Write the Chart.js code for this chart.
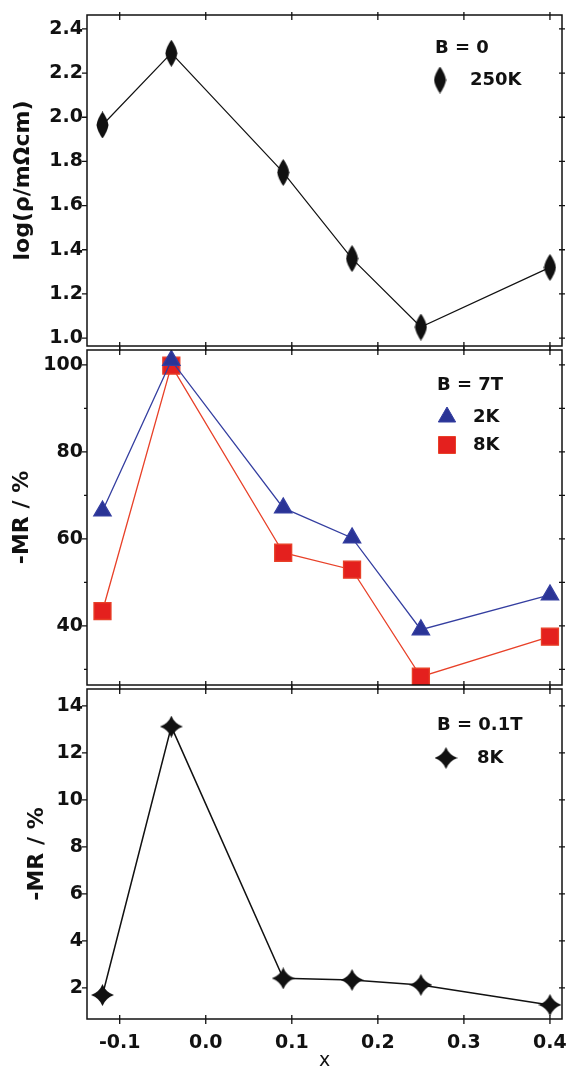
<!DOCTYPE html>
<html>
<head>
<meta charset="utf-8">
<script src="https://cdn.jsdelivr.net/npm/chart.js@4"></script>
<style>
  body { margin: 0; background: #fff; }
  #wrap { position: relative; width: 566px; height: 1072px; }
  canvas { position: absolute; left: 0; }
</style>
</head>
<body>
<div id="wrap">
  <canvas id="rhoChart" width="566" height="352" style="top:0px"></canvas>
  <canvas id="mr7Chart" width="566" height="346" style="top:346px"></canvas>
  <canvas id="mr01Chart" width="566" height="387" style="top:685px"></canvas>
</div>
<script>
// shared composition axis
const xValues = [-0.12, -0.04, 0.09, 0.17, 0.25, 0.4];
const xTicks = [-0.1, 0.0, 0.1, 0.2, 0.3, 0.4];

// top panel: B = 0, 250K
const logRho250K = [1.965, 2.29, 1.75, 1.36, 1.05, 1.32];
const rhoTicks = [1.0, 1.2, 1.4, 1.6, 1.8, 2.0, 2.2, 2.4];

// middle panel: B = 7T
const mr7T2K = [66.4, 101, 67.1, 60.2, 39.1, 47.1];
const mr7T8K = [43.4, 99.8, 56.8, 52.9, 28.3, 37.5];
const mr7Ticks = [40, 60, 80, 100];
const mr7MinorTicks = [30, 50, 70, 90];

// bottom panel: B = 0.1T, 8K
const mr01T8K = [1.7, 13.12, 2.41, 2.34, 2.13, 1.28];
const mr01Ticks = [2, 4, 6, 8, 10, 12, 14];

const FONT = '"DejaVu Sans", "Liberation Sans", sans-serif';
const INK = "#111";

// tall diamond marker
function makeDiamond() {
  const c = document.createElement("canvas");
  c.width = 13; c.height = 27;
  const g = c.getContext("2d");
  g.fillStyle = INK;
  g.beginPath();
  g.moveTo(6.5, 0);
  g.quadraticCurveTo(11.5, 7, 12.5, 13.5);
  g.quadraticCurveTo(11.5, 20, 6.5, 27);
  g.quadraticCurveTo(1.5, 20, 0.5, 13.5);
  g.quadraticCurveTo(1.5, 7, 6.5, 0);
  g.fill();
  return c;
}

// four point star marker
function makeStar() {
  const c = document.createElement("canvas");
  c.width = 23; c.height = 22;
  const g = c.getContext("2d");
  const cx = 11.5, cy = 11;
  g.fillStyle = INK;
  g.beginPath();
  g.moveTo(cx, 0);
  g.quadraticCurveTo(cx + 3, cy - 3, 23, cy);
  g.quadraticCurveTo(cx + 3, cy + 3, cx, 22);
  g.quadraticCurveTo(cx - 3, cy + 3, 0, cy);
  g.quadraticCurveTo(cx - 3, cy - 3, cx, 0);
  g.fill();
  return c;
}

const diamond = makeDiamond();
const star = makeStar();

function points(ys) {
  return xValues.map((x, i) => ({ x: x, y: ys[i] }));
}

function framePlugin(cfg) {
  return {
    id: "frame",
    afterDraw(chart) {
      const { ctx, chartArea: a, scales } = chart;
      ctx.save();
      ctx.strokeStyle = INK;
      ctx.lineWidth = 1.5;
      ctx.strokeRect(a.left, a.top, a.right - a.left, a.bottom - a.top);
      ctx.lineWidth = 1.3;
      ctx.beginPath();
      xTicks.forEach((v) => {
        const px = scales.x.getPixelForValue(v);
        ctx.moveTo(px, a.top - 3); ctx.lineTo(px, a.top + 5);
        ctx.moveTo(px, a.bottom - 4); ctx.lineTo(px, a.bottom + 5);
      });
      cfg.yTicks.forEach((v) => {
        const py = scales.y.getPixelForValue(v);
        ctx.moveTo(a.left - 5, py); ctx.lineTo(a.left, py);
        ctx.moveTo(a.right - 3, py); ctx.lineTo(a.right + 3, py);
      });
      (cfg.yMinor || []).forEach((v) => {
        const py = scales.y.getPixelForValue(v);
        ctx.moveTo(a.left - 3, py); ctx.lineTo(a.left, py);
        ctx.moveTo(a.right - 3, py); ctx.lineTo(a.right + 3, py);
      });
      ctx.stroke();

      // legend box
      const top = cfg.canvasTop;
      ctx.font = "bold 18px " + FONT;
      ctx.textBaseline = "middle";
      ctx.textAlign = "left";
      ctx.fillStyle = INK;
      ctx.fillText(cfg.title, cfg.titleX, cfg.titleY - top);
      cfg.items.forEach((it) => {
        const ds = chart.data.datasets[it.dataset];
        ctx.fillStyle = ds.backgroundColor;
        ctx.strokeStyle = ds.borderColor;
        ctx.lineWidth = 1;
        Chart.helpers.drawPoint(ctx, {
          pointStyle: ds.pointStyle, radius: ds.pointRadius, rotation: 0, borderWidth: 1
        }, it.markerX, it.y - top);
        ctx.fillStyle = INK;
        ctx.fillText(it.text, it.textX, it.y - top);
      });
      ctx.restore();
    },
  };
}

function xScale(showLabels, height) {
  return {
    type: "linear",
    min: -0.138,
    max: 0.414,
    grid: { display: false, drawTicks: false },
    border: { display: false },
    afterBuildTicks: (s) => { s.ticks = xTicks.map((v) => ({ value: v })); },
    ticks: {
      display: showLabels,
      padding: 13,
      color: INK,
      font: { family: FONT, size: 19, weight: "bold" },
      callback: (v) => v.toFixed(1),
    },
    title: {
      display: showLabels,
      text: "x",
      color: INK,
      font: { family: FONT, size: 19 },
      padding: { top: 0, bottom: 0 },
    },
    afterFit: (s) => {
      s.height = height;
      s.paddingLeft = 0;
      s.paddingRight = 0;
    },
  };
}

function yScale(min, max, ticks, digits, title, titlePad) {
  return {
    type: "linear",
    min: min,
    max: max,
    grid: { display: false, drawTicks: false },
    border: { display: false },
    afterBuildTicks: (s) => { s.ticks = ticks.map((v) => ({ value: v })); },
    ticks: {
      padding: 4,
      color: INK,
      font: { family: FONT, size: 19, weight: "bold" },
      callback: (v) => v.toFixed(digits),
    },
    title: {
      display: true,
      text: title,
      color: INK,
      font: { family: FONT, size: 22, weight: "bold" },
      padding: { top: titlePad, bottom: 0 },
    },
    afterFit: (s) => {
      s.width = 87;
      s.paddingTop = 0;
      s.paddingBottom = 0;
    },
  };
}

function baseOptions(padTop, xs, ys) {
  return {
    responsive: false,
    animation: false,
    events: [],
    layout: { autoPadding: false, padding: { top: padTop, right: 4, left: 0, bottom: 0 } },
    scales: { x: xs, y: ys },
    plugins: { legend: { display: false }, tooltip: { enabled: false } },
  };
}

// Top panel
new Chart(document.getElementById("rhoChart").getContext("2d"), {
  type: "line",
  data: {
    datasets: [
      {
        label: "250K",
        data: points(logRho250K),
        borderColor: INK,
        backgroundColor: INK,
        borderWidth: 1.2,
        pointStyle: diamond,
        pointRadius: 7,
        tension: 0,
      },
    ],
  },
  options: baseOptions(15, xScale(false, 6),
    yScale(0.964, 2.463, rhoTicks, 1, "log(ρ/mΩcm)", 10)),
  plugins: [framePlugin({
    canvasTop: 0, yTicks: rhoTicks,
    title: "B = 0", titleX: 435, titleY: 48,
    items: [{ dataset: 0, markerX: 440, textX: 470, y: 80, text: "250K" }],
  })],
});

// Middle panel
new Chart(document.getElementById("mr7Chart").getContext("2d"), {
  type: "line",
  data: {
    datasets: [
      {
        label: "2K",
        data: points(mr7T2K),
        borderColor: "rgb(52, 62, 160)",
        backgroundColor: "rgb(42, 52, 150)",
        borderWidth: 1.3,
        pointStyle: "triangle",
        pointRadius: 10,
        tension: 0,
      },
      {
        label: "8K",
        data: points(mr7T8K),
        borderColor: "rgb(232, 64, 40)",
        backgroundColor: "rgb(228, 32, 30)",
        borderWidth: 1.3,
        pointStyle: "rect",
        pointRadius: 12,
        tension: 0,
      },
    ],
  },
  options: baseOptions(4, xScale(false, 7),
    yScale(26.4, 103.4, mr7Ticks, 0, "-MR / %", 9)),
  plugins: [framePlugin({
    canvasTop: 346, yTicks: mr7Ticks, yMinor: mr7MinorTicks,
    title: "B = 7T", titleX: 437, titleY: 385,
    items: [
      { dataset: 0, markerX: 447, textX: 473, y: 417, text: "2K" },
      { dataset: 1, markerX: 447, textX: 473, y: 445, text: "8K" },
    ],
  })],
});

// Bottom panel
new Chart(document.getElementById("mr01Chart").getContext("2d"), {
  type: "line",
  data: {
    datasets: [
      {
        label: "8K",
        data: points(mr01T8K),
        borderColor: INK,
        backgroundColor: INK,
        borderWidth: 1.5,
        pointStyle: star,
        pointRadius: 8,
        tension: 0,
      },
    ],
  },
  options: baseOptions(4, xScale(true, 53),
    yScale(0.68, 14.72, mr01Ticks, 0, "-MR / %", 24)),
  plugins: [framePlugin({
    canvasTop: 685, yTicks: mr01Ticks,
    title: "B = 0.1T", titleX: 437, titleY: 725,
    items: [{ dataset: 0, markerX: 446, textX: 477, y: 758, text: "8K" }],
  })],
});
</script>
</body>
</html>
